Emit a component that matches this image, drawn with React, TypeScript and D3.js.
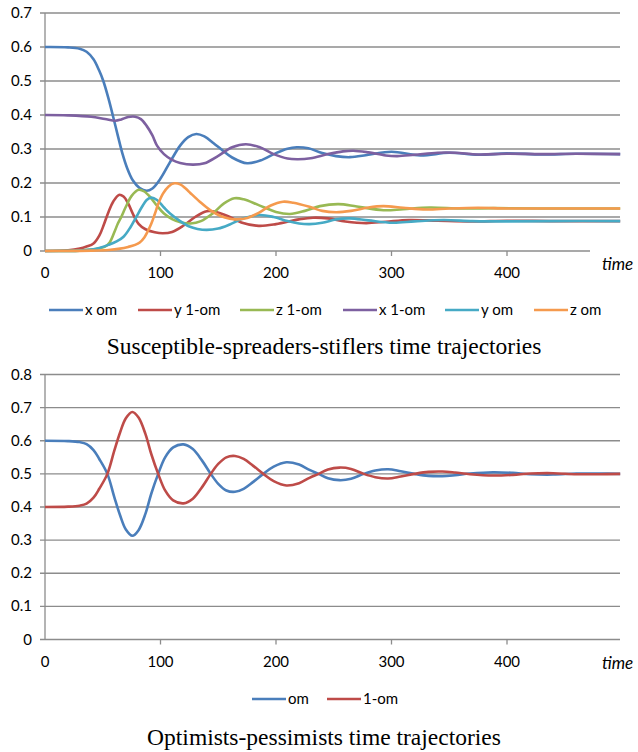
import React from 'react'
import * as d3 from 'd3'

type Pt = [number, number]

// knots: [time, value]
const xOm: Pt[] = [
  [0, 0.6], [20, 0.599], [30, 0.595], [36, 0.586], [42, 0.564], [47, 0.53], [50.5, 0.5],
  [55, 0.448], [59, 0.395], [63, 0.34], [67, 0.287], [71, 0.245], [76, 0.208], [82, 0.185],
  [88, 0.177], [93, 0.184], [100, 0.213], [108, 0.26], [117, 0.31], [124, 0.335],
  [131, 0.344], [138, 0.337], [146, 0.317], [153, 0.298], [162, 0.275], [175, 0.258],
  [188, 0.268], [200, 0.288], [210, 0.301], [218, 0.305], [228, 0.302], [240, 0.288],
  [252, 0.279], [264, 0.276], [280, 0.283], [300, 0.292], [325, 0.281], [350, 0.289],
  [375, 0.283], [400, 0.287], [430, 0.284], [460, 0.286], [498, 0.285],
]
const y1Om: Pt[] = [
  [0, 0], [20, 0.002], [30, 0.007], [36, 0.013], [42, 0.022], [47, 0.045], [51, 0.078],
  [55, 0.115], [59, 0.145], [64, 0.165], [68, 0.16], [72, 0.14], [76, 0.11], [81, 0.08],
  [87, 0.064], [95, 0.055], [102, 0.052], [110, 0.056], [120, 0.075], [130, 0.1], [140, 0.117],
  [148, 0.115], [158, 0.103], [170, 0.084], [185, 0.074], [200, 0.079], [220, 0.093],
  [232, 0.098], [245, 0.096], [260, 0.087], [278, 0.082], [295, 0.086], [315, 0.091],
  [340, 0.089], [370, 0.087], [400, 0.089], [440, 0.088], [498, 0.088],
]
const z1Om: Pt[] = [
  [0, 0], [30, 0.001], [40, 0.004], [47, 0.008], [52, 0.013], [56, 0.025], [60, 0.055],
  [63, 0.08], [66, 0.1], [70, 0.13], [75, 0.162], [81, 0.18], [86, 0.175], [92, 0.155],
  [97, 0.133], [103, 0.11], [110, 0.094], [118, 0.084], [126, 0.081], [135, 0.088],
  [145, 0.11], [155, 0.14], [164, 0.155], [172, 0.152], [185, 0.135], [200, 0.115],
  [212, 0.109], [225, 0.118], [238, 0.132], [254, 0.138], [270, 0.131], [293, 0.12],
  [310, 0.123], [333, 0.128], [360, 0.125], [390, 0.126], [430, 0.125], [498, 0.125],
]
const x1Om: Pt[] = [
  [0, 0.4], [20, 0.399], [40, 0.395], [52, 0.388], [61, 0.383], [66, 0.387], [72, 0.394],
  [78, 0.395], [83, 0.388], [88, 0.368], [93, 0.34], [97, 0.31], [103, 0.285], [110, 0.268],
  [117, 0.259], [128, 0.254], [138, 0.258], [150, 0.28], [162, 0.305], [174, 0.314],
  [186, 0.305], [198, 0.285], [210, 0.272], [219, 0.27], [230, 0.273], [245, 0.285],
  [258, 0.293], [267, 0.295], [280, 0.29], [295, 0.281], [305, 0.279], [320, 0.283],
  [340, 0.289], [355, 0.289], [375, 0.284], [400, 0.286], [430, 0.285], [460, 0.286], [498, 0.285],
]
const yOm: Pt[] = [
  [0, 0], [30, 0.001], [40, 0.004], [47, 0.009], [55, 0.018], [62, 0.028], [68, 0.042],
  [74, 0.07], [79, 0.1], [84, 0.13], [88, 0.15], [92, 0.157], [97, 0.15], [103, 0.128],
  [108, 0.111], [117, 0.088], [125, 0.072], [132, 0.065], [140, 0.062], [150, 0.066],
  [160, 0.078], [172, 0.096], [186, 0.106], [198, 0.1], [210, 0.088], [220, 0.081],
  [229, 0.079], [240, 0.083], [252, 0.093], [264, 0.096], [280, 0.09], [301, 0.083],
  [320, 0.087], [345, 0.091], [370, 0.088], [400, 0.087], [440, 0.088], [498, 0.088],
]
const zOm: Pt[] = [
  [0, 0], [40, 0.001], [55, 0.003], [65, 0.007], [72, 0.012], [78, 0.018], [82, 0.025],
  [86, 0.04], [89, 0.058], [92, 0.08], [95, 0.108], [98, 0.138], [102, 0.168], [107, 0.19],
  [112, 0.199], [117, 0.196], [122, 0.183], [126, 0.17], [134, 0.145], [143, 0.12],
  [152, 0.103], [160, 0.095], [166, 0.093], [175, 0.097], [185, 0.112], [195, 0.133],
  [206, 0.145], [215, 0.142], [229, 0.13], [240, 0.118], [252, 0.114], [265, 0.118],
  [280, 0.128], [293, 0.132], [310, 0.127], [330, 0.122], [350, 0.125], [375, 0.127],
  [400, 0.125], [440, 0.125], [498, 0.125],
]

const om: Pt[] = [
  [0, 0.6], [20, 0.599], [30, 0.596], [36, 0.59], [42, 0.572], [47, 0.545], [54, 0.5],
  [60, 0.43], [65, 0.375], [70, 0.332], [75.6, 0.313], [81, 0.33], [87, 0.38], [92, 0.44],
  [98, 0.5], [104, 0.55], [111, 0.58], [120, 0.589], [128, 0.575], [136, 0.54], [143.5, 0.5],
  [150, 0.47], [157, 0.45], [164.5, 0.446], [172, 0.455], [180, 0.475], [189, 0.5],
  [198, 0.522], [209, 0.535], [220, 0.528], [229, 0.512], [237, 0.5], [245, 0.487],
  [255, 0.481], [265, 0.485], [276, 0.5], [286, 0.51], [297, 0.514], [308, 0.508], [320, 0.5],
  [332, 0.494], [344, 0.493], [355, 0.496], [368, 0.501], [388, 0.505], [405, 0.503],
  [420, 0.499], [440, 0.498], [460, 0.501], [480, 0.501], [498, 0.5],
]
const oneMinusOm: Pt[] = [
  [0, 0.4], [20, 0.401], [30, 0.404], [36, 0.41], [42, 0.428], [47, 0.455], [54, 0.5],
  [60, 0.57], [65, 0.625], [70, 0.668], [75.6, 0.687], [81, 0.67], [87, 0.62], [92, 0.56],
  [98, 0.5], [104, 0.45], [111, 0.42], [120, 0.411], [128, 0.425], [136, 0.46], [143.5, 0.5],
  [150, 0.53], [157, 0.55], [164.5, 0.554], [172, 0.545], [180, 0.525], [189, 0.5],
  [198, 0.478], [209, 0.465], [220, 0.472], [229, 0.488], [237, 0.5], [245, 0.513],
  [255, 0.519], [265, 0.515], [276, 0.5], [286, 0.49], [297, 0.486], [308, 0.492], [320, 0.5],
  [332, 0.506], [344, 0.507], [355, 0.504], [368, 0.499], [388, 0.495], [405, 0.497],
  [420, 0.501], [440, 0.502], [460, 0.499], [480, 0.499], [498, 0.5],
]

const timeTicks = [0, 100, 200, 300, 400]
const topYTicks = [0, 0.1, 0.2, 0.3, 0.4, 0.5, 0.6, 0.7]
const bottomYTicks = [0, 0.1, 0.2, 0.3, 0.4, 0.5, 0.6, 0.7, 0.8]

const topSeries = [
  { name: 'x om', color: '#4A7EBB', values: xOm },
  { name: 'y 1-om', color: '#BE4B48', values: y1Om },
  { name: 'z 1-om', color: '#98B954', values: z1Om },
  { name: 'x 1-om', color: '#7D60A0', values: x1Om },
  { name: 'y om', color: '#46AAC5', values: yOm },
  { name: 'z om', color: '#F59A4E', values: zOm },
]
const bottomSeries = [
  { name: 'om', color: '#4A7EBB', values: om },
  { name: '1-om', color: '#BE4B48', values: oneMinusOm },
]

const axisFont = 'Lato, "Open Sans", sans-serif'
const titleFont = '"Liberation Serif", "DejaVu Serif", serif'
const gridColor = '#8c8c8c'

function TrajectoryChart({ series, yTicks, top, bottom, axisEnd, tickLabelY, timeY, legendY, legendX, title, titleY }) {
  const x = d3.scaleLinear().domain([0, 500]).range([45, 622.5])
  const y = d3.scaleLinear().domain([0, d3.max(yTicks)]).range([bottom, top])
  const line = d3
    .line<Pt>()
    .x((d) => x(d[0]))
    .y((d) => y(d[1]))
    .curve(d3.curveCatmullRom.alpha(0.5))

  const axisText = { fontFamily: axisFont, fontSize: '15px' }

  return (
    <g>
      {yTicks.map((t) => (
        <g key={'grid-' + t}>
          <line
            x1={40}
            x2={t === 0 ? axisEnd : 620}
            y1={y(t)}
            y2={y(t)}
            stroke={gridColor}
            strokeWidth={1.3}
          />
          <text x={32} y={y(t) + 5} textAnchor="end" style={axisText} fill="#000">
            {t === 0 ? '0' : t.toFixed(1)}
          </text>
        </g>
      ))}
      <line x1={x(0)} x2={x(0)} y1={top} y2={bottom} stroke={gridColor} strokeWidth={1.3} />
      {timeTicks.map((t) => (
        <g key={'xt-' + t}>
          {t > 0 && <line x1={x(t)} x2={x(t)} y1={bottom} y2={bottom + 5} stroke={gridColor} strokeWidth={1.3} />}
          <text x={x(t)} y={tickLabelY + 5} textAnchor="middle" style={axisText} fill="#000">
            {t}
          </text>
        </g>
      ))}
      <text x={602} y={timeY + 6} style={{ fontFamily: axisFont, fontSize: '17px', fontStyle: 'italic' }} fill="#000">
        time
      </text>
      {series.map((s) => (
        <path
          key={s.name}
          d={line(s.values)}
          fill="none"
          stroke={s.color}
          strokeWidth={2.6}
          strokeLinejoin="round"
        />
      ))}
      {series.map((s, i) => (
        <g key={'leg-' + s.name}>
          <line x1={legendX[i]} x2={legendX[i] + 34} y1={legendY} y2={legendY} stroke={s.color} strokeWidth={2.6} />
          <text x={legendX[i] + 36} y={legendY + 5} style={axisText} fill="#000">
            {s.name}
          </text>
        </g>
      ))}
      <text x={324} y={titleY + 7} textAnchor="middle" style={{ fontFamily: titleFont, fontSize: '23.5px' }} fill="#000">
        {title}
      </text>
    </g>
  )
}

export default function App() {
  return (
    <svg
      width={638}
      height={752}
      style={{ position: 'absolute', left: 0, top: 0, background: '#fff' }}
    >
      <TrajectoryChart
        series={topSeries}
        yTicks={topYTicks}
        top={13}
        bottom={251}
        axisEnd={590}
        tickLabelY={273}
        timeY={264}
        legendY={310}
        legendX={[49, 138, 240, 343, 445, 534]}
        title="Susceptible-spreaders-stiflers time trajectories"
        titleY={347}
      />
      <TrajectoryChart
        series={bottomSeries}
        yTicks={bottomYTicks}
        top={374.5}
        bottom={639.5}
        axisEnd={620}
        tickLabelY={662}
        timeY={663}
        legendY={699}
        legendX={[252, 327]}
        title="Optimists-pessimists time trajectories"
        titleY={738}
      />
    </svg>
  )
}
